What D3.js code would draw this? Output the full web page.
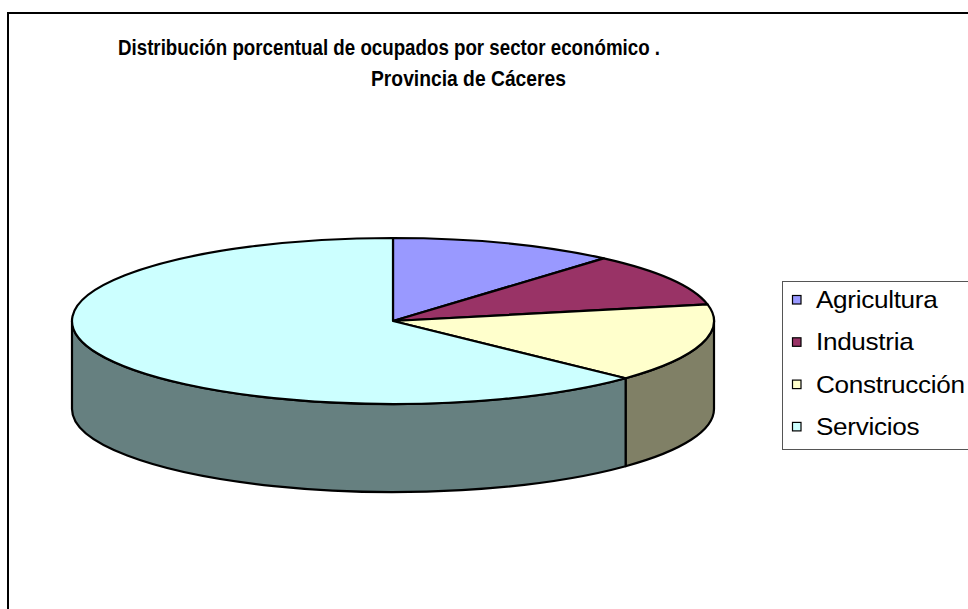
<!DOCTYPE html>
<html>
<head>
<meta charset="utf-8">
<script src="https://cdn.jsdelivr.net/npm/d3@7"></script>
<style>
  body { margin: 0; background: #fff; }
  svg { display: block; font-family: 'Liberation Sans', Arial, sans-serif; }
</style>
</head>
<body>
<svg id="chart" width="968" height="609"></svg>
<script>
// data
var sectors = ['Agricultura', 'Industria', 'Construcción', 'Servicios']
var shares = [11.4, 10.4, 15.3, 62.9]
var topColors = ['#9999FF', '#993366', '#FFFFCC', '#CCFFFF']
var sideColors = ['#4c4c80', '#4c1933', '#808066', '#668080']
var titleLines = ['Distribución porcentual de ocupados por sector económico .', 'Provincia de Cáceres']

var svg = d3.select('#chart')

// outer frame, right and bottom edges fall outside the picture
svg.append('rect')
  .attr('x', 8).attr('y', 13)
  .attr('width', 1000).attr('height', 700)
  .attr('fill', '#fff')
  .attr('stroke', '#000')
  .attr('stroke-width', 2)

// title
var titleX = [118, 371]
var titleW = [542, 195]
svg.append('g').selectAll('text')
  .data(titleLines)
  .enter().append('text')
  .attr('x', function (d, i) { return titleX[i] })
  .attr('y', function (d, i) { return 55 + i * 31 })
  .attr('font-size', 22.5)
  .attr('font-weight', 'bold')
  .attr('textLength', function (d, i) { return titleW[i] })
  .attr('lengthAdjust', 'spacingAndGlyphs')
  .text(function (d) { return d })

// 3d pie
var cx = 393, cy = 321, rx = 321, ry = 83, depth = 88

var pie = d3.pie().sort(null).value(function (d) { return d })
var arcs = pie(shares)

function pt (a, dy) {
  return [cx + rx * Math.sin(a), cy - ry * Math.cos(a) + (dy || 0)]
}

// side walls: only the part facing the viewer (between 90 and 270 deg)
var sides = []
arcs.forEach(function (d, i) {
  var s = Math.max(d.startAngle, Math.PI / 2)
  var e = Math.min(d.endAngle, Math.PI * 3 / 2)
  if (e > s) sides.push({ s: s, e: e, i: i })
})

svg.append('g').selectAll('path')
  .data(sides)
  .enter().append('path')
  .attr('d', function (d) {
    var p0 = pt(d.s), p1 = pt(d.e), q1 = pt(d.e, depth), q0 = pt(d.s, depth)
    var big = (d.e - d.s) > Math.PI ? 1 : 0
    return 'M' + p0 + 'A' + rx + ',' + ry + ' 0 ' + big + ' 1 ' + p1 +
      'L' + q1 + 'A' + rx + ',' + ry + ' 0 ' + big + ' 0 ' + q0 + 'Z'
  })
  .attr('fill', function (d) { return sideColors[d.i] })
  .attr('stroke', '#000')
  .attr('stroke-width', 2.2)
  .attr('stroke-linejoin', 'round')

var arc = d3.arc().innerRadius(0).outerRadius(rx)

svg.append('g')
  .attr('transform', 'translate(' + cx + ',' + cy + ') scale(1,' + (ry / rx) + ')')
  .selectAll('path')
  .data(arcs)
  .enter().append('path')
  .attr('d', arc)
  .attr('fill', function (d, i) { return topColors[i] })
  .attr('stroke', '#000')
  .attr('stroke-width', 2.2)
  .attr('stroke-linejoin', 'round')
  .attr('vector-effect', 'non-scaling-stroke')

// legend
var legend = svg.append('g').attr('transform', 'translate(782,281)')
legend.append('rect')
  .attr('x', 0.5).attr('y', 0.5)
  .attr('width', 220).attr('height', 168)
  .attr('fill', '#fff')
  .attr('stroke', '#555')
  .attr('stroke-width', 1)

var item = legend.selectAll('g.item')
  .data(sectors)
  .enter().append('g')
  .attr('class', 'item')
  .attr('transform', function (d, i) { return 'translate(0,' + (19 + i * 42.3) + ')' })

item.append('rect')
  .attr('x', 10.5).attr('y', -4.5)
  .attr('width', 8.5).attr('height', 8.5)
  .attr('fill', function (d, i) { return topColors[i] })
  .attr('stroke', '#000')
  .attr('stroke-width', 1.2)

item.append('text')
  .attr('transform', 'translate(34,8) scale(1.09,1)')
  .attr('font-size', 24)
  .attr('letter-spacing', -0.3)
  .text(function (d) { return d })
</script>
</body>
</html>
